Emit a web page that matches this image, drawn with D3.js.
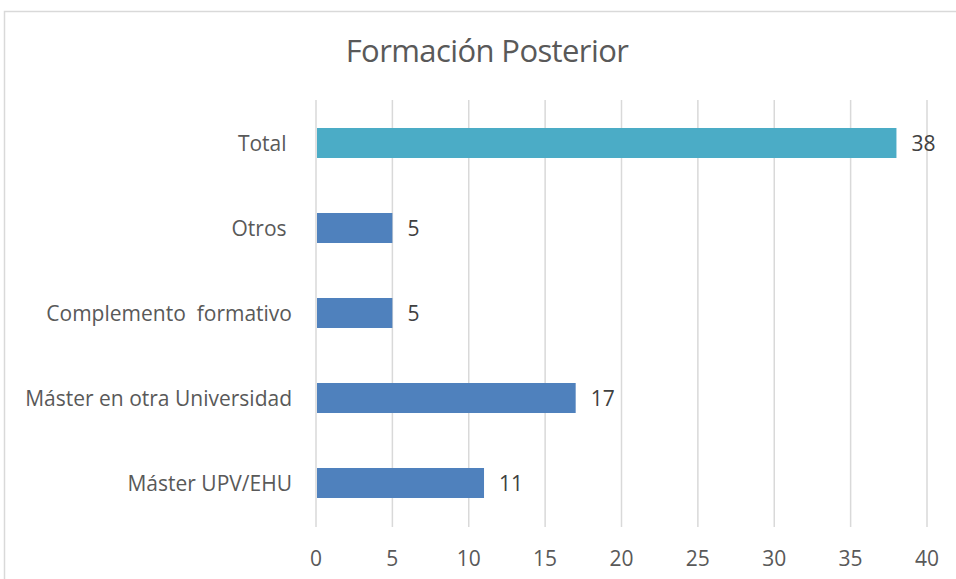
<!DOCTYPE html>
<html><head><meta charset="utf-8">
<script src="https://cdn.jsdelivr.net/npm/d3@7"></script>
<style>body{margin:0;background:#fff}svg{display:block}text{white-space:pre}</style>
</head><body>
<script>
const categories = ["Total ", "Otros ", "Complemento  formativo", "Máster en otra Universidad", "Máster UPV/EHU"];
const values = [38, 5, 5, 17, 11];
const barColors = ["#4BACC6", "#4F81BD", "#4F81BD", "#4F81BD", "#4F81BD"];
const tickValues = [0, 5, 10, 15, 20, 25, 30, 35, 40];
const title = "Formación Posterior";

const W = 956, H = 579;
const svg = d3.select("body").append("svg").attr("width", W).attr("height", H);
svg.append("rect").attr("x", 4.5).attr("y", 11.5).attr("width", 960).attr("height", 600)
  .attr("fill", "#fff").attr("stroke", "#d9d9d9").attr("stroke-width", 1.5);

const x = d3.scaleLinear().domain([0, 40]).range([316, 927]);
const y = d3.scaleBand().domain(categories).range([100.5, 525.5]).paddingInner(0.647).paddingOuter(0.3235);

const font = "'Open Sans', sans-serif";
svg.append("text").attr("x", 487).attr("y", 62).attr("text-anchor", "middle")
  .attr("font-family", font).attr("font-size", 31).attr("fill", "#595959")
  .attr("letter-spacing", -0.6).text(title);

const g = svg.append("g");
g.selectAll("line.grid").data(tickValues).enter().append("line")
  .attr("x1", d => x(d)).attr("x2", d => x(d)).attr("y1", 100).attr("y2", 527)
  .attr("stroke", "#d9d9d9").attr("stroke-width", 1.5);

g.selectAll("text.tick").data(tickValues).enter().append("text")
  .attr("x", d => x(d)).attr("y", 566).attr("text-anchor", "middle")
  .attr("font-family", font).attr("font-size", 21).attr("fill", "#595959").text(d => d);

g.selectAll("rect.bar").data(values).enter().append("rect")
  .attr("x", x(0) + 1).attr("y", (d, i) => y(categories[i]))
  .attr("width", d => x(d) - x(0) - 1).attr("height", y.bandwidth())
  .attr("fill", (d, i) => barColors[i]);

g.selectAll("text.val").data(values).enter().append("text")
  .attr("x", d => x(d) + 15).attr("y", (d, i) => y(categories[i]) + y.bandwidth() / 2 + 7.5)
  .attr("font-family", font).attr("font-size", 21).attr("fill", "#404040").text(d => d);

g.selectAll("text.cat").data(categories).enter().append("text")
  .attr("x", 292).attr("y", d => y(d) + y.bandwidth() / 2 + 7.5).attr("text-anchor", "end")
  .attr("font-family", font).attr("font-size", 21).attr("fill", "#595959").text(d => d);
</script>
</body></html>
